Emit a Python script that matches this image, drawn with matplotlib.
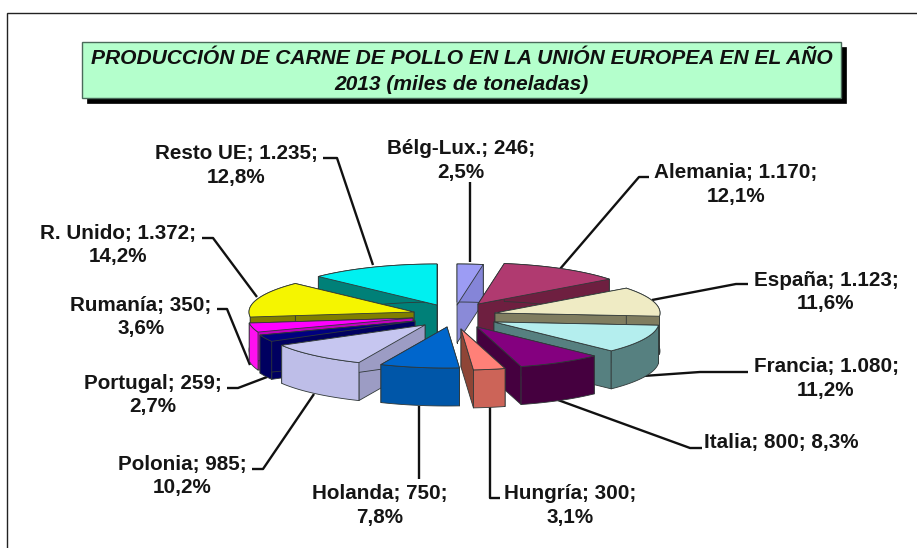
import numpy as np
import matplotlib
matplotlib.use("Agg")
import matplotlib.pyplot as plt
from matplotlib.patches import Polygon, Rectangle

plt.rcParams['font.family'] = ['Liberation Sans', 'DejaVu Sans']

# --- data
countries = ["Bélg-Lux.", "Alemania", "España", "Francia", "Italia", "Hungría",
             "Holanda", "Polonia", "Portugal", "Rumanía", "R. Unido", "Resto UE"]
values = [246, 1170, 1123, 1080, 800, 300, 750, 985, 259, 350, 1372, 1235]
value_text = ["246", "1.170", "1.123", "1.080", "800", "300", "750", "985", "259", "350", "1.372", "1.235"]
percent_text = ["2,5%", "12,1%", "11,6%", "11,2%", "8,3%", "3,1%", "7,8%", "10,2%", "2,7%", "3,6%", "14,2%", "12,8%"]
title_lines = ["PRODUCCIÓN DE CARNE DE POLLO EN LA UNIÓN EUROPEA EN EL AÑO",
               "2013 (miles de toneladas)"]

# --- styling / layout
top_col = ["#9C9CF4", "#B03A70", "#EFEBC4", "#B4EEEE", "#84007F", "#FF8078",
           "#0066CC", "#C6C6F0", "#000080", "#FF00FF", "#F5F500", "#00F0F0"]
wall_col = ["#8585D8", "#6E1F40", "#807D60", "#568080", "#45003F", "#CC6458",
            "#0056A8", "#BEBEE8", "#000060", "#FF10F0", "#807F00", "#008078"]
side_col = ["#8A8AD8", "#6E1F40", "#807D60", "#568080", "#45003F", "#8F4536",
            "#0056A8", "#9C9CC4", "#000060", "#C000C0", "#807F00", "#008078"]
apex = [(457, 305), (478, 304), (495, 313), (494, 322), (477, 327), (461, 329),
        (447, 327), (425, 325), (415, 321), (413, 318), (414, 312), (437, 305)]
draw_order = [11, 0, 1, 10, 2, 9, 8, 3, 7, 4, 6, 5]
RX, RY, DEPTH = 165, 41, 38

labels = [  # text centre x, y
    (461, 160.5), (736, 184.5), (826, 292), (826, 378.5), (781, 442.5), (570, 505.5),
    (380, 505.5), (182, 476), (153, 395), (141, 317), (118, 245), (236.5, 165.5),
]
leaders = [
    [(470, 182), (470, 262)],
    [(649, 177), (639, 177), (560, 269)],
    [(748, 284), (736, 284), (652, 300)],
    [(748, 372), (700, 372), (643, 376)],
    [(702, 448), (690, 448), (558, 400)],
    [(500, 498), (490, 498), (490, 407)],
    [(419, 479), (419, 406)],
    [(252, 469), (263, 469), (314, 394)],
    [(227, 388), (238, 388), (267, 377)],
    [(217, 309), (227, 309), (250, 365)],
    [(202, 238), (213, 238), (257, 297)],
    [(323, 158), (337, 158), (373, 265)],
]

fig = plt.figure(figsize=(9.17, 5.48), dpi=100)
ax = fig.add_axes([0, 0, 1, 1])
ax.set_xlim(0, 917)
ax.set_ylim(548, 0)
ax.axis("off")

# outer frame: left and top rules only
ax.plot([7, 7, 917], [548, 13, 13], color="#222222", lw=1.0, solid_joinstyle="miter")

# title box with shadow
ax.add_patch(Rectangle((87, 47), 759, 56, fc="black", ec="black", lw=0.5))
ax.add_patch(Rectangle((82, 42), 759, 56, fc="#B4FFCC", ec="#4A6A5A", lw=1.0))
ax.text(462, 58, title_lines[0], ha="center", va="center", fontsize=15.1,
        fontweight="bold", fontstyle="italic", color="#101010")
ax.text(461, 84, title_lines[1], ha="center", va="center", fontsize=15.1,
        fontweight="bold", fontstyle="italic", color="#101010")

# slices
vals = np.array(values, dtype=float)
edges = np.concatenate([[0], np.cumsum(vals)]) / vals.sum() * 2 * np.pi


def rim(i, dy=0.0):
    t = np.linspace(edges[i], edges[i + 1], 60)
    return np.column_stack([apex[i][0] + RX * np.sin(t), apex[i][1] - RY * np.cos(t) + dy])


EDGE = dict(ec="#303838", lw=0.6, joinstyle="round")
for rank, i in enumerate(draw_order):
    a = np.array(apex[i], dtype=float)
    top = rim(i)
    bottom = rim(i, DEPTH)
    d = np.array([0, DEPTH])
    z = 3 + rank
    for p in (top[0], top[-1]):
        ax.add_patch(Polygon([a, p, p + d, a + d], closed=True, fc=side_col[i], zorder=z, **EDGE))
    ax.add_patch(Polygon(np.vstack([top, bottom[::-1]]), closed=True, fc=wall_col[i], zorder=z, **EDGE))
    ax.add_patch(Polygon(np.vstack([a, top]), closed=True, fc=top_col[i], zorder=z, **EDGE))

# leader lines and labels
for path in leaders:
    xs, ys = zip(*path)
    ax.plot(xs, ys, color="#111111", lw=1.7, zorder=2, solid_capstyle="butt")

for i, (x, y) in enumerate(labels):
    sep = " " if countries[i] == "Italia" else "\n"
    ax.text(x, y, f"{countries[i]}; {value_text[i]};{sep}{percent_text[i]}",
            ha="center", va="center", fontsize=14.9, fontweight="bold",
            color="#151515", linespacing=1.32, zorder=40)

fig.savefig("out.png", dpi=100)
